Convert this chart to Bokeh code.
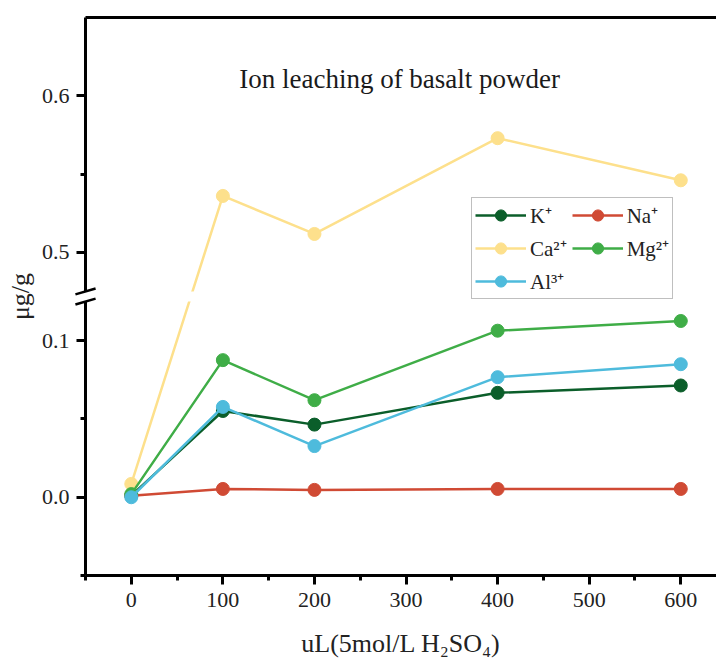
from bokeh.plotting import figure
from bokeh.models import (FixedTicker, CustomJSTickFormatter, LinearAxis, Legend,
                          LegendItem, Range1d, Label)
from bokeh.embed import file_html
from bokeh.resources import INLINE

# ---------------- data ----------------
x_ul = [0, 100, 200, 400, 600]
k_vals = [0.001, 0.0551, 0.0464, 0.0667, 0.0714]
na_vals = [0.001, 0.0053, 0.0047, 0.0053, 0.0053]
ca_vals = [0.0085, 0.536, 0.5117, 0.5729, 0.546]
mg_vals = [0.002, 0.0876, 0.062, 0.1064, 0.1126]
al_vals = [0.0, 0.0577, 0.0327, 0.0767, 0.085]

series_names = ["K⁺", "Na⁺", "Ca²⁺", "Mg²⁺", "Al³⁺"]
series_vals = [k_vals, na_vals, ca_vals, mg_vals, al_vals]
series_colors = ["#0b5e2a", "#d04a34", "#fde08c", "#3fad47", "#4ebbdc"]

x_major = [0, 100, 200, 300, 400, 500, 600]
x_minor = [-50, 50, 150, 250, 350, 450, 550]
y_low_major = [0.0, 0.1]
y_low_minor = [-0.05, 0.05]
y_high_major = [0.5, 0.6]
y_high_minor = [0.55]

title_text = "Ion leaching of basalt powder"
x_label = "uL(5mol/L H₂SO₄)"
y_label = "μg/g"

# ---------------- broken axis definition ----------------
X_START, X_END = -50, 639
LOW_BOTTOM, LOW_TOP = -0.05, 0.125
HIGH_BOTTOM, HIGH_TOP = 0.475, 0.65
GAP = 0.0065
SHIFT = HIGH_BOTTOM - LOW_TOP - GAP


def fold(v):
    return v if v <= LOW_TOP else v - SHIFT


FONT = "Liberation Serif"

p = figure(width=716, height=665,
           x_range=Range1d(X_START, X_END),
           y_range=Range1d(LOW_BOTTOM, fold(HIGH_TOP)),
           output_backend="svg", toolbar_location=None,
           min_border_left=85, min_border_right=0,
           min_border_top=17, min_border_bottom=90)
p.grid.visible = False
p.outline_line_color = None
p.background_fill_color = "white"
p.border_fill_color = "white"

for ax in (p.xaxis[0], p.yaxis[0]):
    ax.axis_line_width = 3
    ax.axis_line_color = "black"
    ax.major_tick_line_width = 3
    ax.minor_tick_line_width = 3
    ax.major_tick_line_color = "black"
    ax.minor_tick_line_color = "black"
    ax.major_tick_in = 0
    ax.major_tick_out = 9
    ax.minor_tick_in = 0
    ax.minor_tick_out = 5
    ax.major_label_text_font = FONT
    ax.major_label_text_font_size = "22px"
    ax.major_label_text_color = "#222222"
    ax.axis_label_text_font = FONT
    ax.axis_label_text_font_size = "26px"
    ax.axis_label_text_font_style = "normal"
    ax.axis_label_text_color = "#222222"

p.xaxis[0].ticker = FixedTicker(ticks=x_major, minor_ticks=x_minor)
p.xaxis[0].axis_label = x_label
p.xaxis[0].major_label_standoff = 8
p.xaxis[0].axis_label_standoff = 19

p.yaxis[0].ticker = FixedTicker(
    ticks=y_low_major + [fold(v) for v in y_high_major],
    minor_ticks=y_low_minor + [fold(v) for v in y_high_minor])
p.yaxis[0].formatter = CustomJSTickFormatter(
    args=dict(shift=SHIFT, top=LOW_TOP),
    code="const v = tick > top + 0.001 ? tick + shift : tick; return v.toFixed(1);")
p.yaxis[0].axis_label = y_label
p.yaxis[0].major_label_standoff = 7
p.yaxis[0].axis_label_standoff = 4

# top frame line
top_axis = LinearAxis(ticker=FixedTicker(ticks=[]), axis_line_width=3,
                      major_tick_out=0, major_tick_in=0,
                      minor_tick_out=0, minor_tick_in=0,
                      major_label_text_font_size="0px",
                      major_label_standoff=0)
p.add_layout(top_axis, "above")

# ---------------- series ----------------
items = []
for name, vals, col in zip(series_names, series_vals, series_colors):
    yv = [fold(v) for v in vals]
    rl = p.line(x_ul, yv, line_color=col, line_width=2.5)
    rs = p.scatter(x_ul, yv, size=13, fill_color=col, line_color=col)
    items.append(LegendItem(label=name, renderers=[rl, rs]))

# ---------------- axis break ----------------
p.quad(left=X_START - 10, right=X_END, bottom=LOW_TOP, top=LOW_TOP + GAP,
       fill_color="white", line_color=None, level="overlay")
brk_dx = 11
brk_dy = 0.0019
p.segment(x0=[X_START - brk_dx, X_START - brk_dx],
          y0=[LOW_TOP - brk_dy, LOW_TOP + GAP - brk_dy],
          x1=[X_START + brk_dx, X_START + brk_dx],
          y1=[LOW_TOP + brk_dy, LOW_TOP + GAP + brk_dy],
          line_color="black", line_width=2.5, level="overlay")

# ---------------- title ----------------
p.add_layout(Label(x=293, y=fold(0.611), text=title_text,
                   text_font=FONT, text_font_size="27px",
                   text_color="#1a1a1a", text_align="center",
                   text_baseline="alphabetic"))

# ---------------- legend ----------------
legend = Legend(items=items, location=(386, 276), orientation="horizontal",
                ncols=2, label_text_font=FONT, label_text_font_size="21px",
                label_text_color="#222222",
                glyph_width=51, glyph_height=28, label_height=28,
                label_standoff=4, spacing=5, padding=3, margin=0,
                border_line_color="#7f7f7f", border_line_width=1.5,
                background_fill_color="white", background_fill_alpha=1.0)
p.add_layout(legend, "center")

open("out.html", "w").write(file_html(p, INLINE))
